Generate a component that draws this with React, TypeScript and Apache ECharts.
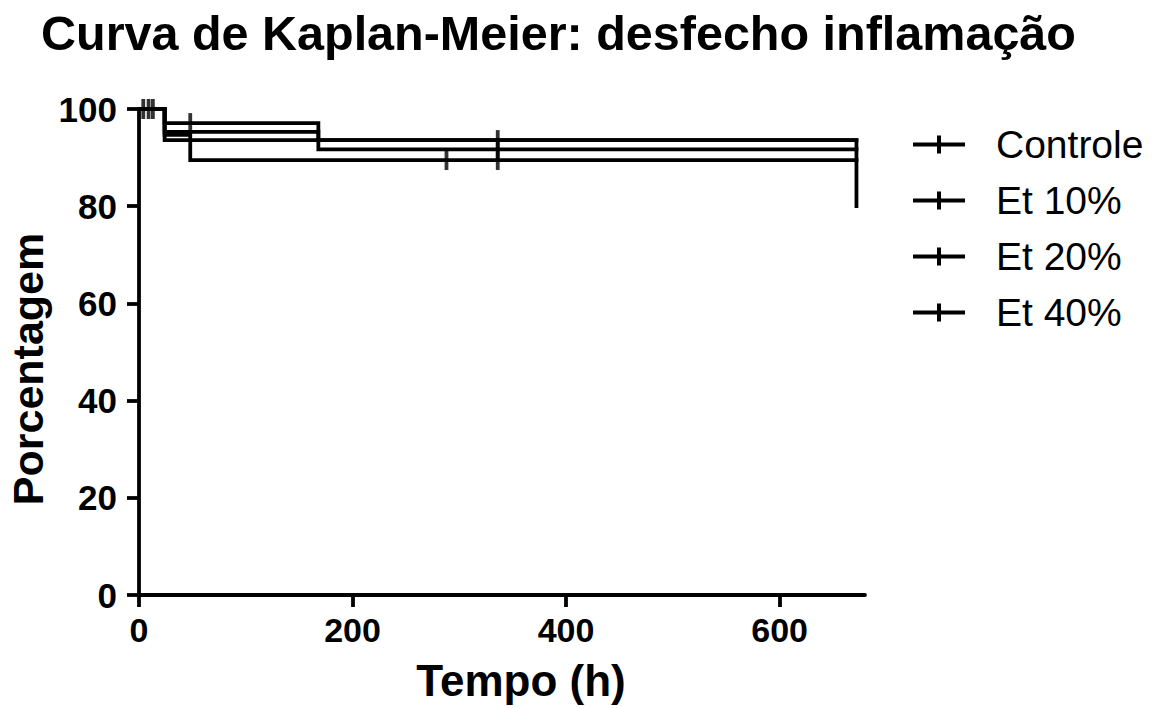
import React, { useEffect, useRef } from "react";
import * as echarts from "echarts";

const titleText = "Curva de Kaplan-Meier: desfecho inflamação";
const xAxisTitle = "Tempo (h)";
const yAxisTitle = "Porcentagem";
const seriesNames = ["Controle", "Et 10%", "Et 20%", "Et 40%"];

// Kaplan-Meier steps: [time (h), survival %]
const controleSteps = [[0, 100], [24, 97.1], [168, 93.6], [672, 80]];
const et10Steps = [[0, 100], [24, 95.3], [168, 91.7], [672, 91.7]];
const et20Steps = [[0, 100], [24, 93.6], [672, 93.6]];
const et40Steps = [[0, 100], [24, 94.7], [48, 89.5], [672, 89.5]];

// censored observations: [time (h), survival %]
const controleCensored = [[4, 100], [48, 97.1], [336, 93.6]];
const et10Censored = [[9, 100], [336, 91.7]];
const et20Censored = [[13, 100]];
const et40Censored = [[288, 89.5], [336, 89.5]];

const xTicks = [0, 200, 400, 600];
const xMax = 680;
const yMin = 0;
const yMax = 100;
const yInterval = 20;

const FONT = "Arial, 'Liberation Sans', Helvetica, sans-serif";

export default function App() {
  const ref = useRef<HTMLDivElement>(null);

  useEffect(() => {
    if (!ref.current) return;
    const chart = echarts.init(ref.current, null, { renderer: "svg" });

    const stepSets = [controleSteps, et10Steps, et20Steps, et40Steps];
    const censorSets = [controleCensored, et10Censored, et20Censored, et40Censored];

    const lineSeries = seriesNames.map((name, i) => ({
      name,
      type: "line",
      step: "end",
      data: stepSets[i],
      showSymbol: false,
      symbol: "none",
      clip: false,
      lineStyle: { color: "#000", width: 3.8, cap: "square", join: "miter" },
      itemStyle: { color: "#000" },
      z: 3,
    }));

    const censorSeries = seriesNames.map((name, i) => ({
      name: name + " (censurado)",
      type: "scatter",
      data: censorSets[i],
      symbol: "rect",
      symbolSize: [3.8, 20],
      itemStyle: { color: "#000" },
      clip: false,
      z: 4,
    }));

    const legendIcon =
      "path://M0,7 L52,7 L52,11 L0,11 Z M24,0 L28,0 L28,18 L24,18 Z";

    chart.setOption({
      animation: false,
      backgroundColor: "#fff",
      title: {
        text: titleText,
        left: 36,
        top: 3,
        textStyle: { fontSize: 48.5, fontWeight: "bold", fontFamily: FONT, color: "#000" },
      },
      legend: {
        data: seriesNames.map((n) => ({ name: n, icon: legendIcon })),
        orient: "vertical",
        left: 908,
        top: 120,
        itemWidth: 52,
        itemHeight: 18,
        itemGap: 17,
        selectedMode: false,
        textStyle: {
          fontSize: 39,
          fontFamily: FONT,
          color: "#000",
          padding: [0, 0, 0, 26],
        },
        itemStyle: { color: "#000" },
      },
      grid: { left: 139, right: 292, top: 109, bottom: 113 },
      xAxis: {
        type: "value",
        min: 0,
        max: xMax,
        axisLine: { show: true, onZero: false, lineStyle: { color: "#000", width: 3.8 } },
        axisTick: {
          show: true,
          length: 12,
          lineStyle: { color: "#000", width: 3.8 },
          customValues: xTicks,
        },
        axisLabel: {
          customValues: xTicks,
          margin: 18,
          fontSize: 34,
          fontWeight: "bold",
          fontFamily: FONT,
          color: "#000",
        },
        splitLine: { show: false },
      },
      yAxis: {
        type: "value",
        min: yMin,
        max: yMax,
        interval: yInterval,
        axisLine: { show: true, onZero: false, lineStyle: { color: "#000", width: 3.8 } },
        axisTick: { show: true, length: 12, lineStyle: { color: "#000", width: 3.8 } },
        axisLabel: {
          margin: 22,
          fontSize: 35,
          fontWeight: "bold",
          fontFamily: FONT,
          color: "#000",
        },
        splitLine: { show: false },
      },
      graphic: [
        {
          type: "text",
          x: 521,
          y: 680,
          style: {
            text: xAxisTitle,
            font: `bold 44px ${FONT}`,
            fill: "#000",
            textAlign: "center",
            textVerticalAlign: "middle",
          },
        },
        {
          type: "text",
          x: 28,
          y: 369,
          rotation: Math.PI / 2,
          style: {
            text: yAxisTitle,
            font: `bold 43px ${FONT}`,
            fill: "#000",
            textAlign: "center",
            textVerticalAlign: "middle",
          },
        },
      ],
      series: [...lineSeries, ...censorSeries],
    });

    return () => chart.dispose();
  }, []);

  return (
    <div
      ref={ref}
      style={{ position: "absolute", left: 0, top: 0, width: 1157, height: 708 }}
    />
  );
}
